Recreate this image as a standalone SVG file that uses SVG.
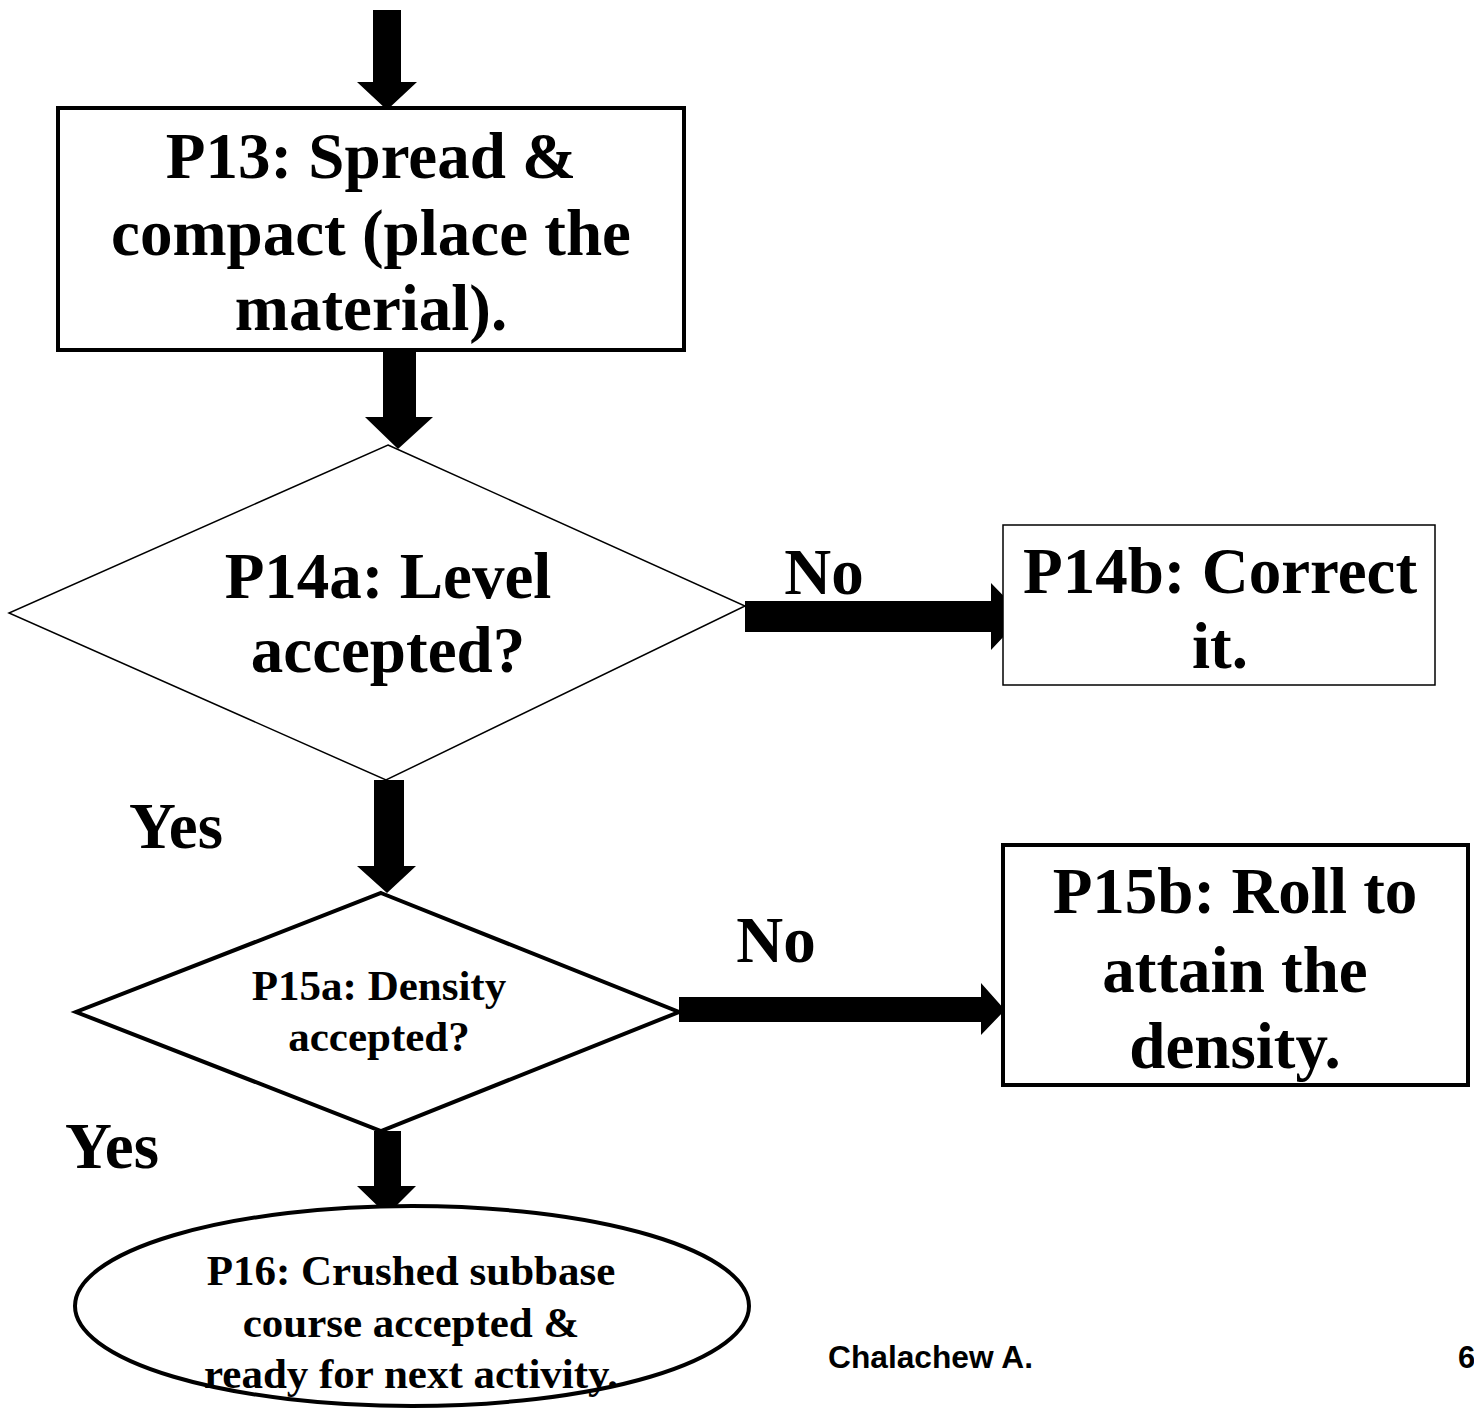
<svg xmlns="http://www.w3.org/2000/svg" width="1474" height="1409" viewBox="0 0 1474 1409">
<style>
.t{font-family:"Liberation Serif","Times New Roman",serif;font-weight:bold;fill:#000;text-anchor:middle}
.big{font-size:65px}
.sm{font-size:43px}
.thick{fill:#fff;stroke:#000;stroke-width:4}
.thin{fill:#fff;stroke:#000;stroke-width:1.5}
.arr{fill:#000}
.foot{font-family:"Liberation Sans",Arial,sans-serif;font-weight:bold;font-size:31px;fill:#000}
</style>
<rect width="1474" height="1409" fill="#fff"/>
<g id="connectors">
<polygon class="arr" points="373,10 401,10 401,82 417,82 387,110 357,82 373,82"/>
<polygon class="arr" points="383,350 416,350 416,417 433,417 398,449 365,417 383,417"/>
<polygon class="arr" points="745,601 991,601 991,583 1023,616 991,650 991,632 745,632"/>
<polygon class="arr" points="374,780 404,780 404,866 416,866 387,893 357,866 374,866"/>
<polygon class="arr" points="679,997 981,997 981,983 1005,1010 981,1035 981,1022 679,1022"/>
<polygon class="arr" points="374,1131 401,1131 401,1186 416,1186 387,1215 357,1186 374,1186"/>
<text class="t big" x="824" y="594">No</text>
<text class="t big" x="776" y="962">No</text>
<text class="t big" x="176" y="848">Yes</text>
<text class="t big" x="112" y="1168">Yes</text>
</g>
<g id="P13">
<rect class="thick" x="58" y="108" width="626" height="242"/>
<text class="t big" x="371" y="178">P13: Spread &amp;</text>
<text class="t big" x="371" y="255">compact (place the</text>
<text class="t big" x="371" y="330">material).</text>
</g>
<g id="P14a">
<polygon class="thin" points="388,445 745,606 386,780 9,613"/>
<text class="t big" x="388" y="598">P14a: Level</text>
<text class="t big" x="388" y="672">accepted?</text>
</g>
<g id="P14b">
<rect class="thin" x="1003" y="525" width="432" height="160"/>
<text class="t big" x="1220" y="593">P14b: Correct</text>
<text class="t big" x="1220" y="668">it.</text>
</g>
<g id="P15a">
<polygon class="thick" points="381,893 679,1012 381,1131 76,1012"/>
<text class="t sm" x="379" y="1000">P15a: Density</text>
<text class="t sm" x="379" y="1051">accepted?</text>
</g>
<g id="P15b">
<rect class="thick" x="1003" y="845" width="465" height="240"/>
<text class="t big" x="1235" y="913">P15b: Roll to</text>
<text class="t big" x="1235" y="992">attain the</text>
<text class="t big" x="1235" y="1068">density.</text>
</g>
<g id="P16">
<ellipse class="thick" cx="412" cy="1306" rx="337" ry="100"/>
<text class="t sm" x="411" y="1285">P16: Crushed subbase</text>
<text class="t sm" x="411" y="1337">course accepted &amp;</text>
<text class="t sm" x="411" y="1388">ready for next activity.</text>
</g>
<g id="footer">
<text class="foot" x="828" y="1368" textLength="205" lengthAdjust="spacingAndGlyphs">Chalachew A.</text>
<text class="foot" x="1458" y="1368">6</text>
</g>
</svg>
